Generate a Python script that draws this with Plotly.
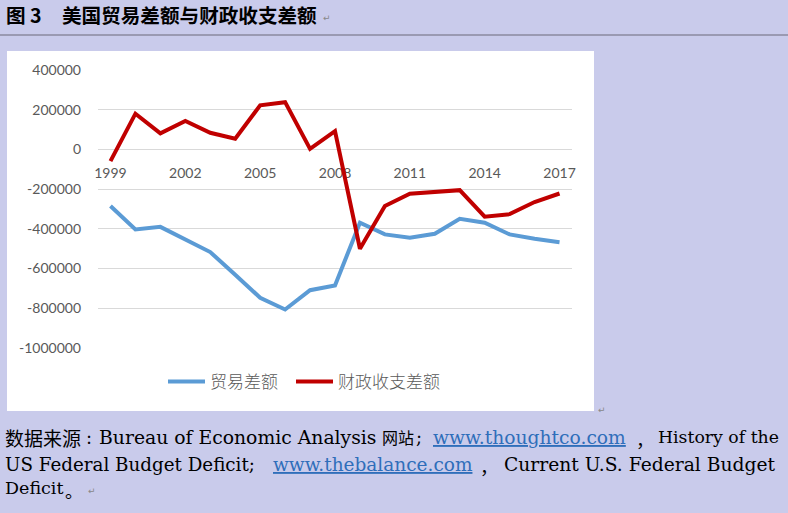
import plotly.graph_objects as go

# ---- data ----
years = [str(y) for y in range(1999, 2018)]
trade_balance = [-285000, -403000, -390000, -453000, -517000, -631000, -747000, -806000,
                 -709000, -685000, -369000, -428000, -445000, -425000, -349000, -369000,
                 -428000, -450000, -467000]
fiscal_balance = [-59000, 180000, 81000, 143000, 84000, 54000, 222000, 238000,
                  3000, 92000, -500000, -285000, -223000, -215000, -205000, -339000,
                  -326000, -265000, -222000]
x_tick_years = ["1999", "2002", "2005", "2008", "2011", "2014", "2017"]
y_tick_vals = [400000, 200000, 0, -200000, -400000, -600000, -800000, -1000000]
y_tick_text = [str(v) for v in y_tick_vals]
series_names = ["贸易差额", "财政收支差额"]

W, H = 788, 513
def px(x):
    return x / W
def py(y):
    return 1 - y / H

BG = "#C9CBEB"
GRAY = "#595959"
LINK = "#2F6EBA"

ymin, ymax = -1000000, 400000
dom_y = [py(348), py(70)]
x_pos = dom_y[0] + (0 - ymin) / (ymax - ymin) * (dom_y[1] - dom_y[0])

fig = go.Figure()
fig.add_trace(go.Scatter(x=years, y=trade_balance, mode="lines", name=series_names[0],
                         line=dict(color="#5B9BD5", width=4), legend="legend"))
fig.add_trace(go.Scatter(x=years, y=fiscal_balance, mode="lines", name=series_names[1],
                         line=dict(color="#C00000", width=4), legend="legend2"))

leg_font = dict(family="Noto Sans CJK SC", size=17, color=GRAY, weight=300)

fig.update_layout(
    width=W, height=H, autosize=False,
    margin=dict(l=0, r=0, t=0, b=0, pad=0),
    paper_bgcolor=BG, plot_bgcolor="rgba(0,0,0,0)",
    showlegend=True,
    legend=dict(orientation="h", x=px(163), xanchor="left", y=py(382), yanchor="middle",
                itemwidth=37, font=leg_font, bgcolor="rgba(0,0,0,0)"),
    legend2=dict(orientation="h", x=px(291), xanchor="left", y=py(382), yanchor="middle",
                 itemwidth=37, font=leg_font, bgcolor="rgba(0,0,0,0)"),
    xaxis=dict(type="category", categoryorder="array", categoryarray=years,
               range=[-0.5, len(years) - 0.5], domain=[px(98), px(572)],
               tickmode="array", tickvals=x_tick_years, ticktext=x_tick_years,
               anchor="free", position=x_pos, showgrid=False, showline=False,
               zeroline=False, ticks="", ticklabelstandoff=14, automargin=False,
               layer="below traces",
               tickfont=dict(family="Lato", size=14, color=GRAY)),
    yaxis=dict(range=[ymin, ymax], domain=dom_y, tickmode="array",
               tickvals=y_tick_vals, ticktext=y_tick_text,
               showgrid=True, gridcolor="#D9D9D9", gridwidth=1,
               zeroline=True, zerolinecolor="#D9D9D9", zerolinewidth=1,
               showline=False, ticks="", ticklabelstandoff=16, automargin=False,
               layer="below traces",
               tickfont=dict(family="Lato", size=14, color=GRAY)),
    shapes=[
        dict(type="rect", xref="paper", yref="paper", x0=px(7), x1=px(594), y0=py(411), y1=py(51),
             fillcolor="white", line=dict(width=0), layer="below"),
        dict(type="line", xref="paper", yref="paper", x0=0, x1=1, y0=py(35), y1=py(35),
             line=dict(color="#9A9AB2", width=2)),
    ],
)

def ann(text, x, y, size, family, color="black", xanchor="left"):
    fig.add_annotation(text=text, xref="paper", yref="paper", x=px(x), y=py(y),
                       xanchor=xanchor, yanchor="middle", showarrow=False,
                       font=dict(family=family, size=size, color=color))

SERIF = "DejaVu Serif"
CJK = "Noto Sans CJK SC"

# title
ann("<b>图 3</b>", 4, 15, 19.6, CJK)
ann("<b>美国贸易差额与财政收支差额</b>", 60, 15, 19.6, CJK)
ann("↵", 321, 18, 9, "DejaVu Sans", "#888888")

# paragraph mark after chart
ann("↵", 596, 410, 9, "DejaVu Sans", "#888888")

# source text line 1
ann("数据来源", 3, 437, 19, CJK)
ann(":", 84, 437, 18, SERIF)
ann("Bureau of Economic Analysis", 97, 437, 18.8, SERIF)
ann("网站", 380, 437, 16, CJK)
ann(";", 414, 437, 18, SERIF)
ann(f"<span style='color:{LINK}'><u>www.thoughtco.com</u></span>", 431, 437, 18.7, SERIF)
ann("，", 634, 439, 18, CJK)
ann("History of the", 656, 437, 17.3, SERIF)

# line 2
ann("US Federal Budget Deficit;", 3, 464, 18.3, SERIF)
ann(f"<span style='color:{LINK}'><u>www.thebalance.com</u></span>", 271, 464, 18.5, SERIF)
ann("，", 478, 466, 18, CJK)
ann("Current U.S. Federal Budget", 502, 464, 18.7, SERIF)

# line 3
ann("Deficit", 3, 488, 17.5, SERIF)
ann("。", 63, 490, 18, CJK)
ann("↵", 86, 491, 9, "DejaVu Sans", "#888888")

fig.write_html("out.html", config={"displayModeBar": False},
               post_script="document.body.style.margin='0';document.body.style.overflow='hidden';")
